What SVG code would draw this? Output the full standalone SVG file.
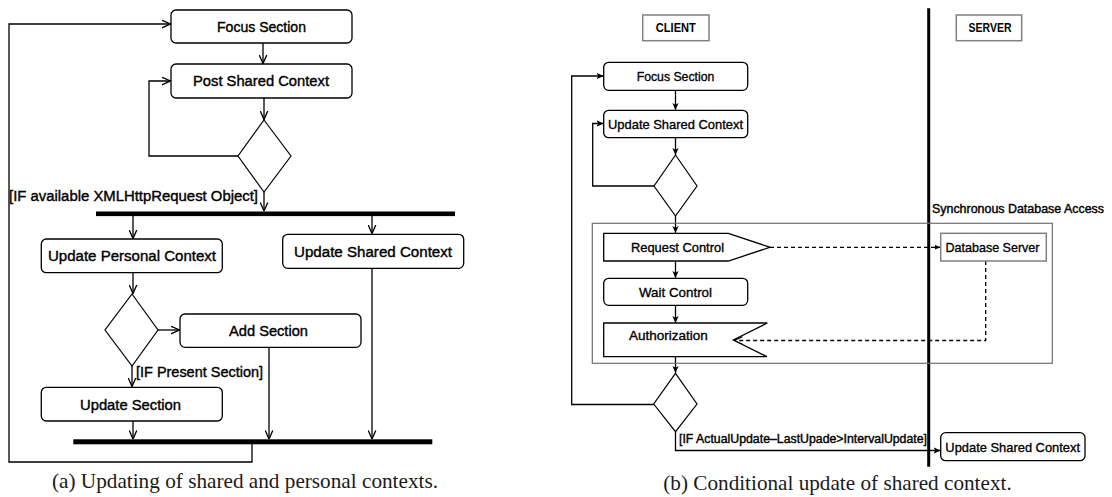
<svg xmlns="http://www.w3.org/2000/svg" width="1112" height="497" viewBox="0 0 1112 497">
<style>
.bg{fill:#fff}
.box{fill:#fff;stroke:#000;stroke-width:1.3}
.gbox{fill:none;stroke:#707070;stroke-width:1.2}
.sbox{fill:#fff;stroke:#808080;stroke-width:1.5}
.dia{fill:#fff;stroke:#000;stroke-width:1.2}
.bar{fill:#000}
.ln{fill:none;stroke:#000;stroke-width:1.3}
.la{fill:none;stroke:#000;stroke-width:1.3;marker-end:url(#openA)}
.lb{fill:none;stroke:#000;stroke-width:1.3;marker-end:url(#fillA)}
.dash{fill:none;stroke:#000;stroke-width:1.3;stroke-dasharray:4 3}
.ta{font-family:"Liberation Sans",Arial,sans-serif;font-size:15.5px;fill:#000;stroke:#000;stroke-width:0.4}
.tb{font-family:"Liberation Sans",Arial,sans-serif;font-size:13.5px;fill:#000;stroke:#000;stroke-width:0.35}
.ts{font-family:"Liberation Sans",Arial,sans-serif;font-size:12.4px;fill:#000;stroke:#000;stroke-width:0.4}
.th{font-family:"Liberation Sans",Arial,sans-serif;font-size:12px;font-weight:bold;fill:#000}
.cap{font-family:"Liberation Serif","Times New Roman",serif;font-size:21px;fill:#1a1a1a}
</style>
<defs>
<marker id="openA" viewBox="0 0 10 10" refX="9.5" refY="5" markerWidth="9" markerHeight="9" markerUnits="userSpaceOnUse" orient="auto">
<path d="M0,0.8 L9.5,5 L0,9.2" fill="none" stroke="#000" stroke-width="1.5"/>
</marker>
<marker id="fillA" viewBox="0 0 10 10" refX="10" refY="5" markerWidth="7" markerHeight="7" markerUnits="userSpaceOnUse" orient="auto">
<path d="M0,0.5 L10,5 L0,9.5 L2.5,5 Z" fill="#000"/>
</marker>
<marker id="dashA" viewBox="0 0 10 10" refX="10" refY="5" markerWidth="6" markerHeight="6" markerUnits="userSpaceOnUse" orient="auto">
<path d="M0,1 L10,5 L0,9 Z" fill="#000"/>
</marker>
<marker id="openB" viewBox="0 0 10 10" refX="9.5" refY="5" markerWidth="9" markerHeight="9" markerUnits="userSpaceOnUse" orient="auto">
<path d="M0,0.8 L9.5,5 L0,9.2" fill="none" stroke="#000" stroke-width="1.3"/>
</marker>
</defs>
<rect class="bg" x="0" y="0" width="1112" height="497"/>

<!-- connectors -->
<g id="connectors">
<!-- (a) -->
<path class="la" d="M263,43 V63.5"/>
<path class="la" d="M264,98 V119.5"/>
<path class="la" d="M238,156 H149 V81 H170.5"/>
<path class="la" d="M252,444 V462 H9 V24 H170.5"/>
<path class="la" d="M264,192 V211"/>
<path class="la" d="M133,216 V238.5"/>
<path class="la" d="M372,216 V233.5"/>
<path class="la" d="M133,273 V293.5"/>
<path class="la" d="M158,330 H179.5"/>
<path class="la" d="M132,366 V386.5"/>
<path class="la" d="M133,421 V439"/>
<path class="la" d="M269,347 V439"/>
<path class="la" d="M372,268 V439"/>
<!-- (b) -->
<path class="lb" d="M675.5,90.3 V110"/>
<path class="lb" d="M654,186 H592.7 V123.5 H603.5"/>
<path class="lb" d="M653.7,404.5 H571.7 V76 H603.5"/>
<path class="lb" d="M675.5,137.7 V155"/>
<path class="lb" d="M675.5,216 V233"/>
<path class="lb" d="M675.5,261 V278"/>
<path class="lb" d="M675.5,305.3 V323"/>
<path class="lb" d="M675.5,356.7 V373"/>
<path class="lb" d="M675.5,431.7 V450.5 H940.5"/>
<path class="dash" d="M770,247.3 H940.5" marker-end="url(#dashA)"/>
<path class="dash" d="M985.7,261 V340.5 H734" marker-end="url(#openB)"/>
</g>

<!-- (a) nodes -->
<g id="a-focus"><rect class="box" x="171" y="10" width="181" height="33" rx="5"/><text class="ta" x="261.5" y="31.8" text-anchor="middle" textLength="89" lengthAdjust="spacingAndGlyphs">Focus Section</text></g>
<g id="a-post"><rect class="box" x="171" y="64" width="181" height="34" rx="5"/><text class="ta" x="261" y="86.3" text-anchor="middle" textLength="136" lengthAdjust="spacingAndGlyphs">Post Shared Context</text></g>
<g id="a-dec1"><polygon class="dia" points="264,120 291,156 264,192 238,156"/></g>
<g id="a-label1"><text class="ta" x="9" y="201" textLength="249" lengthAdjust="spacingAndGlyphs">[IF available XMLHttpRequest Object]</text></g>
<g id="a-fork"><rect class="bar" x="96" y="211.5" width="359" height="4.6"/></g>
<g id="a-upc"><rect class="box" x="41.3" y="239" width="181" height="33.7" rx="5"/><text class="ta" x="132" y="261.4" text-anchor="middle" textLength="168" lengthAdjust="spacingAndGlyphs">Update Personal Context</text></g>
<g id="a-usc"><rect class="box" x="282.7" y="234.3" width="181" height="34" rx="5"/><text class="ta" x="373" y="256.8" text-anchor="middle" textLength="158" lengthAdjust="spacingAndGlyphs">Update Shared Context</text></g>
<g id="a-dec2"><polygon class="dia" points="132,294 158,330 132,366 105,330"/></g>
<g id="a-add"><rect class="box" x="180" y="314" width="181" height="33.3" rx="5"/><text class="ta" x="268.5" y="336.1" text-anchor="middle" textLength="79" lengthAdjust="spacingAndGlyphs">Add Section</text></g>
<g id="a-label2"><text class="ta" x="136" y="376.7" textLength="127" lengthAdjust="spacingAndGlyphs">[IF Present Section]</text></g>
<g id="a-us"><rect class="box" x="41.3" y="387.3" width="181" height="33.7" rx="5"/><text class="ta" x="130.5" y="409.6" text-anchor="middle" textLength="101" lengthAdjust="spacingAndGlyphs">Update Section</text></g>
<g id="a-join"><rect class="bar" x="73.3" y="439.3" width="359" height="5"/></g>
<g id="a-caption"><text class="cap" x="52" y="488" textLength="386" lengthAdjust="spacingAndGlyphs">(a) Updating of shared and personal contexts.</text></g>

<!-- (b) nodes -->
<g id="b-client"><rect class="sbox" x="642.7" y="15" width="66.3" height="25.7"/><text class="th" x="675.8" y="32.2" text-anchor="middle" textLength="40" lengthAdjust="spacingAndGlyphs">CLIENT</text></g>
<g id="b-server"><rect class="sbox" x="956.3" y="15" width="65.4" height="25.7"/><text class="th" x="990" y="32.2" text-anchor="middle" textLength="43" lengthAdjust="spacingAndGlyphs">SERVER</text></g>
<g id="b-divider"><line x1="928.7" y1="8.3" x2="928.7" y2="466.7" stroke="#000" stroke-width="3"/></g>
<g id="b-focus"><rect class="box" x="603.7" y="62.3" width="144" height="28" rx="5"/><text class="tb" x="675.5" y="81.2" text-anchor="middle" textLength="77.7" lengthAdjust="spacingAndGlyphs">Focus Section</text></g>
<g id="b-usc"><rect class="box" x="603.7" y="110.3" width="144" height="27.4" rx="5"/><text class="tb" x="675.5" y="128.9" text-anchor="middle" textLength="135" lengthAdjust="spacingAndGlyphs">Update Shared Context</text></g>
<g id="b-dec1"><polygon class="dia" points="675.5,155 697,186 675.5,216 654,186"/></g>
<g id="b-sync"><rect class="gbox" x="592.3" y="223.3" width="460" height="140"/><text class="ts" x="932" y="213.3" textLength="172" lengthAdjust="spacingAndGlyphs">Synchronous Database Access</text></g>
<g id="b-request"><polygon class="box" points="603.7,233.3 728.3,233.3 770,247.3 728.3,261 603.7,261"/><text class="tb" x="677.5" y="252.2" text-anchor="middle" textLength="93" lengthAdjust="spacingAndGlyphs">Request Control</text></g>
<g id="b-db"><rect class="sbox" x="940.7" y="233.3" width="105.6" height="27.7"/><text class="tb" x="992.5" y="252.2" text-anchor="middle" textLength="94" lengthAdjust="spacingAndGlyphs">Database Server</text></g>
<g id="b-wait"><rect class="box" x="603.7" y="278.3" width="144" height="27" rx="5"/><text class="tb" x="675.5" y="296.9" text-anchor="middle" textLength="73" lengthAdjust="spacingAndGlyphs">Wait Control</text></g>
<g id="b-auth"><polygon class="box" points="603.7,323 767.3,323 733.3,340 767,356.7 603.7,356.7"/><text class="tb" x="668.3" y="340.2" text-anchor="middle" textLength="78.7" lengthAdjust="spacingAndGlyphs">Authorization</text></g>
<g id="b-dec2"><polygon class="dia" points="675.5,373.3 697,404 675.5,431.7 653.7,404"/></g>
<g id="b-label"><text class="ts" x="679" y="443.3" textLength="248" lengthAdjust="spacingAndGlyphs">[IF ActualUpdate–LastUpade&gt;IntervalUpdate]</text></g>
<g id="b-usc2"><rect class="box" x="940.7" y="432.7" width="144.3" height="28" rx="5" stroke-width="1.6"/><text class="tb" x="1012.7" y="451.7" text-anchor="middle" textLength="134.7" lengthAdjust="spacingAndGlyphs">Update Shared Context</text></g>
<g id="b-caption"><text class="cap" x="663.3" y="490" textLength="348.4" lengthAdjust="spacingAndGlyphs">(b) Conditional update of shared context.</text></g>
</svg>
